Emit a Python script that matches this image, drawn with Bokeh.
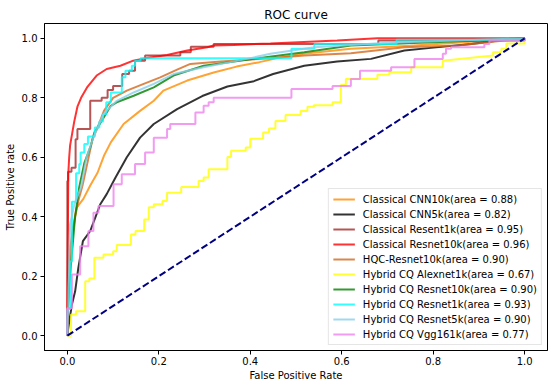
from bokeh.plotting import figure
from bokeh.models import FixedTicker, NumeralTickFormatter, Range1d
from bokeh.embed import file_html
from bokeh.resources import INLINE

# ---------------- data ----------------
labels = [
    "Classical CNN10k(area = 0.88)",
    "Classical CNN5k(area = 0.82)",
    "Classical Resent1k(area = 0.95)",
    "Classical Resnet10k(area = 0.96)",
    "HQC-Resnet10k(area = 0.90)",
    "Hybrid CQ Alexnet1k(area = 0.67)",
    "Hybrid CQ Resnet10k(area = 0.90)",
    "Hybrid CQ Resnet1k(area = 0.93)",
    "Hybrid CQ Resnet5k(area = 0.90)",
    "Hybrid CQ Vgg161k(area = 0.77)",
]
colors = ["darkorange", "black", "brown", "red", "chocolate", "yellow",
          "green", "cyan", "skyblue", "violet"]

cnn10k_fpr = [0, 0.002, 0.006, 0.013, 0.02, 0.035, 0.05, 0.066, 0.08, 0.095, 0.123, 0.159,
              0.189, 0.21, 0.262, 0.32, 0.37, 0.42, 0.467, 0.517, 0.62, 0.75, 0.85, 1.0]
cnn10k_tpr = [0, 0.10, 0.29, 0.37, 0.43, 0.46, 0.505, 0.548, 0.605, 0.65, 0.712, 0.756,
              0.79, 0.824, 0.858, 0.885, 0.905, 0.92, 0.936, 0.948, 0.965, 0.975, 0.985, 1.0]

cnn5k_fpr = [0, 0.002, 0.01, 0.017, 0.024, 0.034, 0.05, 0.061, 0.072, 0.086, 0.105, 0.13,
             0.159, 0.189, 0.24, 0.295, 0.35, 0.408, 0.45, 0.518, 0.59, 0.664, 0.737, 0.795,
             0.883, 0.956, 1.0]
cnn5k_tpr = [0, 0.026, 0.105, 0.149, 0.228, 0.318, 0.352, 0.397, 0.442, 0.476, 0.531, 0.60,
             0.666, 0.712, 0.762, 0.806, 0.838, 0.856, 0.88, 0.908, 0.922, 0.931, 0.959, 0.968,
             0.981, 0.995, 1.0]

resent1k_fpr = [0, 0, 0.0015, 0.0015, 0.009, 0.009, 0.018, 0.018, 0.022, 0.022, 0.05, 0.05,
                0.075, 0.075, 0.088, 0.088, 0.10, 0.10, 0.12, 0.12, 0.135, 0.135, 0.148, 0.148,
                0.17, 0.17, 0.247, 0.247, 0.27, 0.27, 0.32, 0.32, 0.68, 0.68, 1.0, 1.0]
resent1k_tpr = [0, 0.52, 0.52, 0.551, 0.551, 0.565, 0.565, 0.661, 0.661, 0.695, 0.695, 0.79,
                0.79, 0.80, 0.80, 0.826, 0.826, 0.84, 0.84, 0.88, 0.88, 0.891, 0.891, 0.925,
                0.925, 0.942, 0.942, 0.953, 0.953, 0.972, 0.972, 0.981, 0.981, 0.993, 0.993, 1.0]

resnet10k_fpr = [0, 0, 0.002, 0.004, 0.006, 0.015, 0.022, 0.03, 0.043, 0.064, 0.086, 0.116,
                 0.144, 0.174, 0.218, 0.262, 0.306, 0.32, 0.364, 0.444, 0.59, 0.678, 1.0]
resnet10k_tpr = [0, 0.10, 0.544, 0.60, 0.64, 0.72, 0.77, 0.80, 0.835, 0.875, 0.897, 0.908,
                 0.925, 0.934, 0.944, 0.959, 0.970, 0.976, 0.978, 0.983, 0.993, 1.0, 1.0]

hqc_fpr = [0, 0.002, 0.007, 0.017, 0.025, 0.033, 0.044, 0.055, 0.066, 0.08, 0.10, 0.13, 0.167,
           0.203, 0.24, 0.269, 0.335, 0.444, 0.518, 0.62, 0.737, 0.854, 0.94, 1.0]
hqc_tpr = [0, 0.15, 0.30, 0.40, 0.46, 0.504, 0.582, 0.661, 0.70, 0.756, 0.80, 0.824, 0.847,
           0.869, 0.895, 0.914, 0.922, 0.933, 0.942, 0.95, 0.97, 0.976, 0.99, 1.0]

alexnet1k_fpr = [0, 0.008, 0.008, 0.019, 0.019, 0.039, 0.039, 0.048, 0.048, 0.059, 0.059, 0.079,
                 0.079, 0.100, 0.100, 0.108, 0.108, 0.139, 0.139, 0.149, 0.149, 0.168, 0.168,
                 0.178, 0.178, 0.189, 0.189, 0.208, 0.208, 0.218, 0.218, 0.249, 0.249, 0.287,
                 0.287, 0.298, 0.298, 0.309, 0.309, 0.350, 0.350, 0.358, 0.358, 0.390, 0.390,
                 0.400, 0.400, 0.428, 0.428, 0.441, 0.441, 0.455, 0.455, 0.477, 0.477, 0.510,
                 0.510, 0.525, 0.525, 0.539, 0.539, 0.580, 0.580, 0.598, 0.598, 0.609, 0.609,
                 0.678, 0.678, 0.704, 0.704, 0.752, 0.752, 0.821, 0.821, 0.931, 0.931, 0.949,
                 0.949, 0.960, 0.960, 1.0, 1.0]
alexnet1k_tpr = [0, 0, 0.071, 0.071, 0.082, 0.082, 0.183, 0.183, 0.192, 0.192, 0.262, 0.262,
                 0.273, 0.273, 0.284, 0.284, 0.305, 0.305, 0.340, 0.340, 0.352, 0.352, 0.391,
                 0.391, 0.432, 0.432, 0.442, 0.442, 0.453, 0.453, 0.481, 0.481, 0.500, 0.500,
                 0.520, 0.520, 0.532, 0.532, 0.560, 0.560, 0.601, 0.601, 0.622, 0.622, 0.633,
                 0.633, 0.662, 0.662, 0.683, 0.683, 0.697, 0.697, 0.722, 0.722, 0.742, 0.742,
                 0.756, 0.756, 0.770, 0.770, 0.775, 0.775, 0.785, 0.785, 0.843, 0.843, 0.863,
                 0.863, 0.878, 0.878, 0.886, 0.886, 0.903, 0.903, 0.925, 0.942, 0.953, 0.953,
                 0.965, 0.965, 0.983, 0.983, 1.0]

cq_resnet10k_fpr = [0, 0, 0.004, 0.017, 0.026, 0.037, 0.051, 0.059, 0.073, 0.095, 0.108, 0.145,
                    0.189, 0.232, 0.298, 0.408, 0.518, 0.62, 0.854, 1.0]
cq_resnet10k_tpr = [0, 0.05, 0.17, 0.40, 0.50, 0.58, 0.638, 0.683, 0.717, 0.773, 0.785, 0.807,
                    0.835, 0.875, 0.908, 0.931, 0.953, 0.976, 0.99, 1.0]

cq_resnet1k_fpr = [0, 0, 0.007, 0.007, 0.01, 0.01, 0.019, 0.019, 0.026, 0.026, 0.029, 0.029,
                   0.037, 0.037, 0.045, 0.045, 0.06, 0.06, 0.07, 0.07, 0.078, 0.078, 0.085, 0.085,
                   0.095, 0.095, 0.119, 0.119, 0.127, 0.127, 0.141, 0.141, 0.148, 0.148, 0.16,
                   0.16, 0.49, 0.49, 0.54, 0.54, 0.72, 0.72, 1.0, 1.0]
cq_resnet1k_tpr = [0, 0.09, 0.09, 0.25, 0.25, 0.45, 0.45, 0.546, 0.546, 0.577, 0.577, 0.616,
                   0.616, 0.645, 0.645, 0.67, 0.67, 0.70, 0.70, 0.72, 0.72, 0.745, 0.745, 0.785,
                   0.785, 0.818, 0.818, 0.869, 0.869, 0.891, 0.891, 0.908, 0.908, 0.925, 0.925,
                   0.933, 0.933, 0.965, 0.965, 0.981, 0.981, 0.995, 0.995, 1.0]

cq_resnet5k_fpr = [0, 0, 0.002, 0.006, 0.015, 0.03, 0.042, 0.057, 0.079, 0.108, 0.145, 0.189,
                   0.232, 0.298, 0.393, 0.444, 0.54, 0.7, 1.0]
cq_resnet5k_tpr = [0, 0.05, 0.093, 0.374, 0.44, 0.50, 0.60, 0.667, 0.745, 0.79, 0.818, 0.847,
                   0.88, 0.903, 0.931, 0.948, 0.97, 0.985, 1.0]

vgg161k_fpr = [0, 0, 0.01, 0.01, 0.028, 0.028, 0.046, 0.046, 0.057, 0.057, 0.068, 0.068, 0.101,
               0.101, 0.119, 0.119, 0.148, 0.148, 0.17, 0.17, 0.189, 0.189, 0.218, 0.218, 0.225,
               0.225, 0.28, 0.28, 0.298, 0.298, 0.309, 0.309, 0.32, 0.32, 0.49, 0.49, 0.58, 0.58,
               0.62, 0.62, 0.64, 0.64, 0.708, 0.708, 0.759, 0.759, 0.821, 0.821, 0.828, 0.828,
               0.839, 0.839, 0.912, 0.912, 0.923, 0.923, 1.0, 1.0]
vgg161k_tpr = [0, 0.093, 0.093, 0.206, 0.206, 0.301, 0.301, 0.352, 0.352, 0.413, 0.413, 0.436,
               0.436, 0.509, 0.509, 0.543, 0.543, 0.577, 0.577, 0.616, 0.616, 0.666, 0.666, 0.695,
               0.695, 0.712, 0.712, 0.751, 0.751, 0.773, 0.773, 0.785, 0.785, 0.80, 0.80, 0.83,
               0.83, 0.84, 0.84, 0.863, 0.863, 0.891, 0.891, 0.903, 0.903, 0.931, 0.931, 0.948,
               0.948, 0.965, 0.965, 0.97, 0.97, 0.981, 0.981, 0.993, 0.993, 1.0]

chance_x = [0, 1]
chance_y = [0, 1]

x_ticks = [0.0, 0.2, 0.4, 0.6, 0.8, 1.0]
y_ticks = [0.0, 0.2, 0.4, 0.6, 0.8, 1.0]

curves = [
    (cnn10k_fpr, cnn10k_tpr),
    (cnn5k_fpr, cnn5k_tpr),
    (resent1k_fpr, resent1k_tpr),
    (resnet10k_fpr, resnet10k_tpr),
    (hqc_fpr, hqc_tpr),
    (alexnet1k_fpr, alexnet1k_tpr),
    (cq_resnet10k_fpr, cq_resnet10k_tpr),
    (cq_resnet1k_fpr, cq_resnet1k_tpr),
    (cq_resnet5k_fpr, cq_resnet5k_tpr),
    (vgg161k_fpr, vgg161k_tpr),
]

# ---------------- figure ----------------
FONT = "DejaVu Sans"
p = figure(width=553, height=387, output_backend="svg", toolbar_location=None,
           x_range=Range1d(-0.05, 1.05), y_range=Range1d(-0.05, 1.05),
           title="ROC curve")
p.min_border_left = 44
p.min_border_right = 6
p.min_border_top = 23
p.min_border_bottom = 37

p.title.text_font = FONT
p.title.text_font_size = "12px"
p.title.text_font_style = "normal"
p.title.text_color = "black"
p.title.align = "center"
p.title.standoff = 3

p.xgrid.visible = False
p.ygrid.visible = False
p.outline_line_color = "black"
p.outline_line_width = 1
p.outline_line_alpha = 1

for ax in (p.xaxis[0], p.yaxis[0]):
    ax.axis_line_color = "black"
    ax.major_tick_out = 4
    ax.major_tick_in = 0
    ax.minor_tick_out = 0
    ax.minor_tick_in = 0
    ax.major_tick_line_color = "black"
    ax.major_label_text_font = FONT
    ax.major_label_text_font_size = "10px"
    ax.major_label_text_color = "black"
    ax.axis_label_text_font = FONT
    ax.axis_label_text_font_size = "10px"
    ax.axis_label_text_font_style = "normal"
    ax.axis_label_text_color = "black"
    ax.formatter = NumeralTickFormatter(format="0.0")
    ax.major_label_standoff = 3
    ax.axis_label_standoff = 3

p.xaxis[0].major_label_standoff = 2
p.xaxis[0].axis_label_standoff = 2
p.xaxis[0].ticker = FixedTicker(ticks=x_ticks)
p.yaxis[0].ticker = FixedTicker(ticks=y_ticks)
p.xaxis[0].axis_label = "False Positive Rate"
p.yaxis[0].axis_label = "True Positive rate"

for (fx, fy), c, lab in zip(curves, colors, labels):
    p.line(fx, fy, line_color=c, line_width=2, line_alpha=0.8, legend_label=lab)

p.line(chance_x, chance_y, line_color="navy", line_width=2, line_dash="7 3")

lg = p.legend[0]
lg.location = "bottom_right"
lg.label_text_font = FONT
lg.label_text_font_size = "10px"
lg.label_text_color = "black"
lg.glyph_width = 22
lg.glyph_height = 12
lg.label_height = 12
lg.spacing = 3
lg.padding = 4
lg.margin = 5
lg.label_standoff = 8
lg.border_line_color = "#cccccc"
lg.border_line_width = 1
lg.background_fill_alpha = 0.8

open("out.html", "w").write(file_html(p, INLINE))
